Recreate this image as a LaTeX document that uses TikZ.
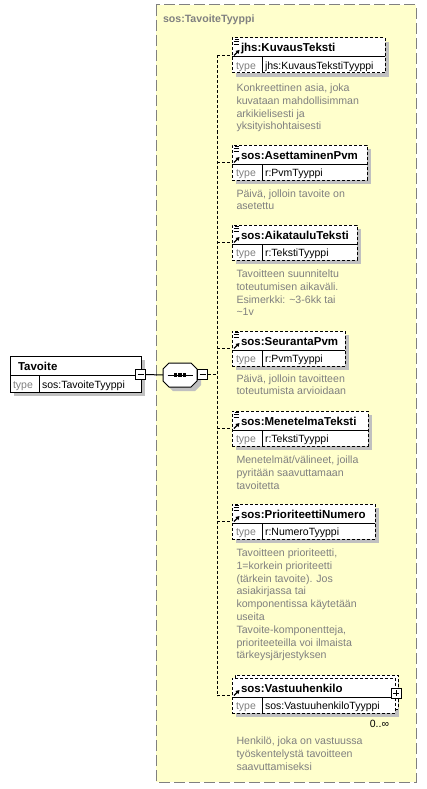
\documentclass[tikz,border=0pt]{standalone}
\usepackage{fontspec}
\setmainfont{Liberation Sans}
\definecolor{ylw}{RGB}{255,255,204}
\definecolor{gtx}{RGB}{128,128,128}
\definecolor{shd}{RGB}{192,192,192}
\tikzset{
 every node/.style={inner sep=0pt, outer sep=0pt},
 ebox/.style={draw=black, fill=white, line width=1pt, dash pattern=on 3pt off 2pt, rectangle, anchor=north west},
 sbox/.style={draw=black, fill=white, line width=1pt, rectangle, anchor=north west},
 hdr/.style={font=\fontsize{11.5}{13}\selectfont\bfseries, anchor=base west},
 tlab/.style={font=\fontsize{10.5}{12}\selectfont, text=gtx, anchor=base west},
 tval/.style={font=\fontsize{10.5}{12}\selectfont, anchor=base west},
 desc/.style={font=\fontsize{10.6}{12.8}\selectfont, text=gtx, align=left, anchor=north west},
 conn/.style={line width=1pt, dash pattern=on 3pt off 2pt},
 sepl/.style={line width=1pt},
 pmbox/.style={draw=black, fill=white, line width=1pt, minimum width=10pt, minimum height=10pt, rectangle},
}
% #1 id, #2 top, #3 width, #4 name, #5 type, #6 desc, #7 icon, #8 desc first baseline offset, #9 extra
\newcommand{\Elem}[9]{%
\begin{scope}[shift={(232,#2)}]
 \fill[shd] (4,4) rectangle ({#3+4},39);
 #9
 \node[ebox, minimum width=#3pt, minimum height=35pt] (#1) at (0,0) {};
 \draw[sepl] (0,19) -- (#3,19);
 \draw[sepl] (30,19) -- (30,35);
 \node[hdr] (#1-n) at (9,14) {#4};
 \node[tlab] (#1-tl) at (4,31.5) {type};
 \node[tval] (#1-tv) at (33,31.5) {#5};
 \node[desc] (#1-d) at (4.5,{#8-8.96}) {\strut #6};
 \ifnum#7=1
  \draw[line width=0.9pt] (2.5,1.5)--(6.5,1.5) (1.5,3.8)--(7,3.8) (1.5,6)--(7,6);
 \fi
 \draw[line width=1.1pt] (2,17.5)--(5.5,14);
 \fill (7.5,12)--(3.5,13)--(6.5,16)--cycle;
 \coordinate (#1-in) at (0,17.5);
\end{scope}}
\begin{document}
\begin{tikzpicture}[x=1pt,y=-1pt]
\useasboundingbox (0,0) rectangle (427,789);
% outer complex type area
\draw[fill=ylw, draw=gtx, line width=1pt, dash pattern=on 11pt off 4pt] (156,5) rectangle (416,782);
\node[font=\fontsize{10.6}{12}\selectfont\bfseries, text=gtx, anchor=base west] (title) at (163,23) {sos:TavoiteTyyppi};

% root element
\fill[shd] (14,360) rectangle (145,396);
\node[sbox, minimum width=131pt, minimum height=36pt] (tav) at (10,356) {};
\draw[sepl] (10,375) -- (141,375);
\draw[sepl] (39,375) -- (39,392);
\node[hdr] (tav-n) at (18,370) {Tavoite};
\node[tlab] (tav-tl) at (13,388) {type};
\node[tval] (tav-tv) at (42,388) {sos:TavoiteTyyppi};
\node[pmbox] (tav-m) at (140.5,374.5) {};
\draw[line width=1pt] ([xshift=-3pt]tav-m.center) -- ([xshift=3pt]tav-m.center);

% sequence compositor
\fill[shd] (173,367) -- (195,367) -- (201,373) -- (201,385) -- (195,391) -- (173,391) -- (167,385) -- (167,373) -- cycle;
\node[minimum width=34pt, minimum height=24pt] (seq) at (180,375) {};
\draw[fill=white, line width=1pt] (169,363) -- (191,363) -- (197,369) -- (197,381) -- (191,387) -- (169,387) -- (163,381) -- (163,369) -- cycle;
\draw[line width=1pt] (167.5,375) -- (192.5,375);
\foreach \dx in {175.5,180,184.5} \fill (\dx-1.7,373.3) rectangle (\dx+1.7,376.7);
\node[pmbox] (seq-m) at (202.5,374.5) {};
\draw[line width=1pt] ([xshift=-3pt]seq-m.center) -- ([xshift=3pt]seq-m.center);
\draw[line width=1pt] (tav-m.east) -- (seq.west);

% elements
\Elem{e1}{38}{153}{jhs:KuvausTeksti}{jhs:KuvausTekstiTyyppi}{Konkreettinen asia, joka\\kuvataan mahdollisimman\\arkikielisesti ja\\yksityishohtaisesti}{1}{53.5}{}
\Elem{e2}{145}{135}{sos:AsettaminenPvm}{r:PvmTyyppi}{Päivä, jolloin tavoite on\\asetettu}{1}{52}{}
\Elem{e3}{225}{125}{sos:AikatauluTeksti}{r:TekstiTyyppi}{Tavoitteen suunniteltu\\toteutumisen aikaväli.\\Esimerkki: \textasciitilde3-6kk tai\\\textasciitilde1v}{1}{52.5}{}
\Elem{e4}{331}{113}{sos:SeurantaPvm}{r:PvmTyyppi}{Päivä, jolloin tavoitteen\\toteutumista arvioidaan}{1}{51}{}
\Elem{e5}{411}{136}{sos:MenetelmaTeksti}{r:TekstiTyyppi}{Menetelmät/välineet, joilla\\pyritään saavuttamaan\\tavoitetta}{1}{52.5}{}
\Elem{e6}{504}{143}{sos:PrioriteettiNumero}{r:NumeroTyyppi}{Tavoitteen prioriteetti,\\1=korkein prioriteetti\\(tärkein tavoite). Jos\\asiakirjassa tai\\komponentissa käytetään\\useita\\Tavoite-komponentteja,\\prioriteeteilla voi ilmaista\\tärkeysjärjestyksen}{1}{52.5}{}
\Elem{e7}{678}{163}{sos:Vastuuhenkilo}{sos:VastuuhenkiloTyyppi}{Henkilö, joka on vastuussa\\työskentelystä tavoitteen\\saavuttamiseksi}{0}{66.5}{\node[ebox, minimum width=163pt, minimum height=34pt] (e7-back) at (3,-3) {};}
\node[pmbox] (e7-p) at (396,693) {};
\draw[line width=1pt] ([xshift=-3pt]e7-p.center) -- ([xshift=3pt]e7-p.center) ([yshift=-3pt]e7-p.center) -- ([yshift=3pt]e7-p.center);
\node[font=\fontsize{10.5}{12}\selectfont, anchor=base east] (e7-occ) at (389,727) {0..∞};

% spine and connectors
\coordinate (spT) at (217,55.5);
\draw[conn] (e1-in -| spT) -- (e7-in -| spT);
\draw[conn] (seq-m.east) -- (seq-m.east -| spT);
\foreach \e in {e1,e2,e3,e4,e5,e6,e7} \draw[conn] (\e-in -| spT) -- (\e-in);
\end{tikzpicture}
\end{document}
